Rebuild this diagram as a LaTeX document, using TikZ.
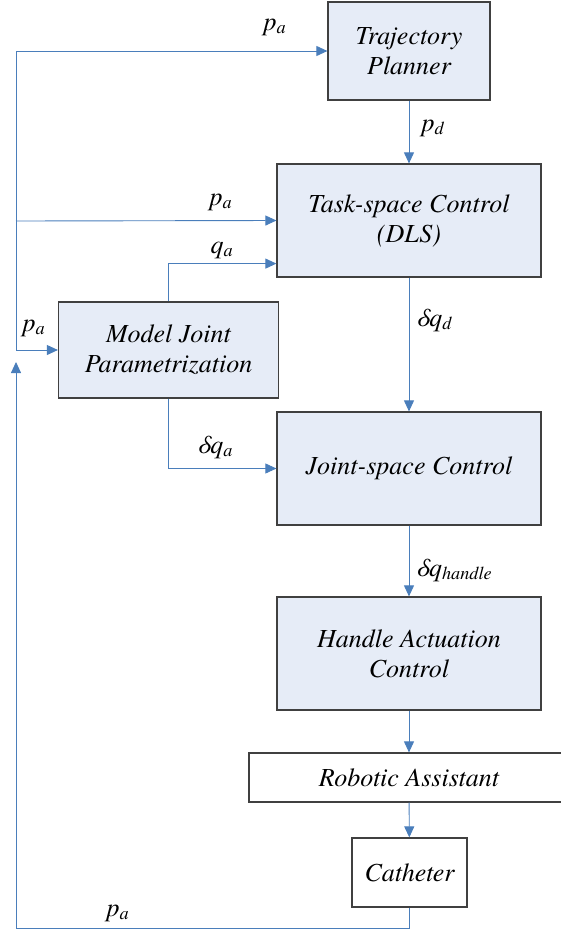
\documentclass[tikz,border=0pt]{standalone}
\usepackage{fontspec}
\setmainfont{TeX Gyre Termes}
\newfontfamily\termes{TeX Gyre Termes}
\usetikzlibrary{positioning,arrows.meta}
\definecolor{linkblue}{RGB}{74,126,187}
\definecolor{boxfill}{RGB}{230,236,247}
\definecolor{boxline}{RGB}{64,64,64}
\newcommand{\bdfont}{\termes\fontsize{26}{30}\selectfont\itshape}
\newcommand{\sgn}[2]{#1\textsubscript{#2}}
\tikzset{
    block/.style={draw=boxline,line width=1.2pt,fill=boxfill,align=center,inner sep=0pt,font=\bdfont},
    plant/.style={block,fill=white},
    link/.style={draw=linkblue,line width=0.9pt,-{Triangle[length=11pt,width=10pt]}},
    sig/.style={font=\bdfont,inner sep=0pt},
  }

\begin{document}
\begin{tikzpicture}[x=1pt,y=-1pt]
				  %page frame (pixels, y downwards)
				  \clip (0,0) rectangle (561,930);
				  %blocks
				  \node[block,minimum width=162pt,minimum height=98pt] (tp) at (409,51) {Trajectory\\Planner};
				  \node[block,minimum width=264pt,minimum height=113pt] (ts) at (409,220.5) {Task-space Control\\(DLS)};
				  \node[block,minimum width=220pt,minimum height=96pt] (mjp) at (168.5,350) {Model Joint\\Parametrization};
				  \node[block,minimum width=264pt,minimum height=113pt] (js) at (409,468.5) {Joint-space Control};
				  \node[block,minimum width=264pt,minimum height=113pt] (hac) at (409,653.5) {Handle Actuation\\Control};
				  \node[plant,minimum width=320pt,minimum height=49pt] (ra) at (409,777.5) {Robotic Assistant};
				  \node[plant,minimum width=115pt,minimum height=69pt] (cat) at (409.5,872.5) {Catheter};

				  %forward chain
				  \draw[link] (tp) -- (ts);
				  \draw[link] (ts) -- (js);
				  \draw[link] (js) -- (hac);
				  \draw[link] (hac) -- (ra);
				  \draw[link] (ra) -- (cat);
				  \draw[link] (mjp.north) |- ([yshift=14pt]ts.south west);
				  \draw[link] (mjp.south) |- (js.west);

				  %feedback of p_a
				  \coordinate (fbl) at (16,928);
				  \coordinate (fbtip) at (16,362);
				  \coordinate (br) at (16,350);
				  \coordinate (mid) at (16,221);
				  \coordinate (tl) at (16,51);
				  \draw[link] (cat.south) |- (fbl) -- (fbtip);
				  \draw[link] (br) -- (mjp.west);
				  \draw[link] (br) -- (tl) -- (tp.west);
				  \draw[link] (mid) -- (ts.west);

				  %signal labels
				  \node[sig] (pa1) at (275,27) {\sgn{p}{a}};
				  \node[sig] (pd) at (433,128) {\sgn{p}{d}};
				  \node[sig] (pa2) at (221,202) {\sgn{p}{a}};
				  \node[sig] (qa) at (222,250) {\sgn{q}{a}};
				  \node[sig] (pa3) at (34,328) {\sgn{p}{a}};
				  \node[sig] (dqd) at (434,320) {δ\sgn{q}{d}};
				  \node[sig] (dqa) at (215,447) {δ\sgn{q}{a}};
				  \node[sig] (dqh) at (454,570) {δ\sgn{q}{handle}};
				  \node[sig] (pa4) at (118,913) {\sgn{p}{a}};
				  \end{tikzpicture}
\end{document}
